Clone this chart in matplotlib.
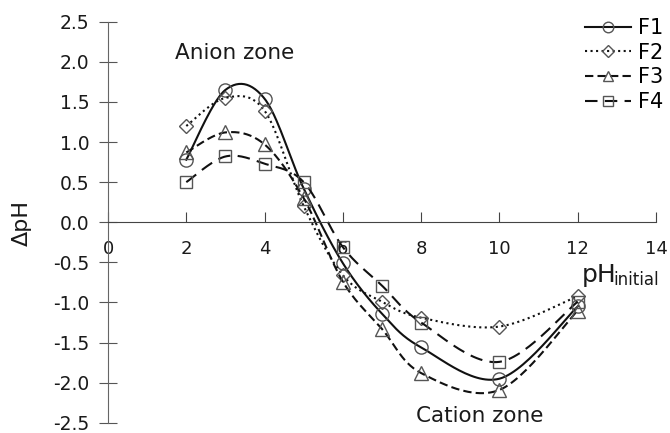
import numpy as np
import matplotlib.pyplot as plt

# pH initial values
ph = [2, 3, 4, 5, 6, 7, 8, 10, 12]

# delta pH for each sample
f1 = [0.78, 1.65, 1.54, 0.42, -0.51, -1.14, -1.56, -1.95, -1.05]
f2 = [1.20, 1.55, 1.39, 0.20, -0.66, -0.99, -1.19, -1.30, -0.92]
f3 = [0.87, 1.12, 0.97, 0.30, -0.74, -1.33, -1.88, -2.09, -1.10]
f4 = [0.50, 0.82, 0.73, 0.50, -0.31, -0.79, -1.25, -1.74, -0.99]

names = ['F1', 'F2', 'F3', 'F4']
yticks = [-2.5, -2.0, -1.5, -1.0, -0.5, 0.0, 0.5, 1.0, 1.5, 2.0, 2.5]
ylabels = ['-2.5', '-2.0', '-1.5', '-1.0', '-0.5', '0.0', '0.5', '1.0', '1.5', '2.0', '2.5']
xticks = [0, 2, 4, 6, 8, 10, 12, 14]


def smooth(x, y, n=30):
    # bezier through the points, like a spreadsheet "smoothed line"
    p = np.column_stack([x, y]).astype(float)
    p = np.vstack([p[0], p, p[-1]])
    t = np.linspace(0, 1, n)[:, None]
    out = []
    for i in range(1, len(p) - 2):
        a, b = p[i], p[i + 1]
        c1 = a + (p[i + 1] - p[i - 1]) / 6
        c2 = b - (p[i + 2] - p[i]) / 6
        seg = (1 - t)**3 * a + 3 * (1 - t)**2 * t * c1 + 3 * (1 - t) * t**2 * c2 + t**3 * b
        out.append(seg if i == 1 else seg[1:])
    out = np.vstack(out)
    return out[:, 0], out[:, 1]


fig = plt.figure(figsize=(6.7, 4.33), dpi=100)
ax = fig.add_axes([0.1612, 0.0235, 0.8179, 0.9264])

styles = [
    dict(ls='-', marker='o', ms=9.5),
    dict(ls=':', marker='D', ms=7.5),
    dict(ls=(0, (4, 2)), marker='^', ms=9.5),
    dict(ls=(0, (6, 3.5)), marker='s', ms=9),
]

handles = []
for vals, st in zip([f1, f2, f3, f4], styles):
    sx, sy = smooth(ph, vals)
    ln, = ax.plot(sx, sy, color='#111111', lw=1.5, linestyle=st['ls'])
    mk, = ax.plot(ph, vals, linestyle='none', marker=st['marker'], ms=st['ms'],
                  mfc='none', mec='#555555', mew=1.0)
    handles.append((ln, mk))

ax.set_xlim(0, 14)
ax.set_ylim(-2.5, 2.5)
for s in ['top', 'right']:
    ax.spines[s].set_visible(False)
ax.spines['left'].set_position(('data', 0))
ax.spines['bottom'].set_position(('data', 0))
ax.spines['left'].set_color('#666666')
ax.spines['bottom'].set_color('#444444')

ax.set_yticks(yticks)
ax.set_yticklabels(ylabels)
ax.set_xticks(xticks)
ax.tick_params(axis='y', direction='inout', length=13, pad=7, labelsize=13.5,
               color='#555555', labelcolor='#1a1a1a')
ax.tick_params(axis='x', direction='in', length=7, pad=13, labelsize=13,
               color='#444444', labelcolor='#1a1a1a')

fig.text(0.033, 0.485, 'ΔpH', rotation=90, fontsize=16, ha='center', va='center',
         color='#1a1a1a')
ax.text(12.11, -0.74, 'pH', fontsize=18, ha='left', va='baseline', color='#1a1a1a')
ax.text(12.9, -0.78, 'initial', fontsize=12, ha='left', va='baseline', color='#1a1a1a')
ax.text(3.24, 2.11, 'Anion zone', fontsize=15.5, ha='center', va='center',
        color='#1a1a1a')
ax.text(9.5, -2.42, 'Cation zone', fontsize=15.5, ha='center', va='center',
        color='#1a1a1a')

ax.legend(handles, names, loc='upper left', bbox_to_anchor=(0.873, 0.958),
          bbox_transform=fig.transFigure, frameon=False, fontsize=15,
          borderpad=0, borderaxespad=0, handlelength=2.2, handletextpad=0.35,
          labelspacing=0.22, markerscale=0.8)

fig.savefig('out.png', dpi=100)
